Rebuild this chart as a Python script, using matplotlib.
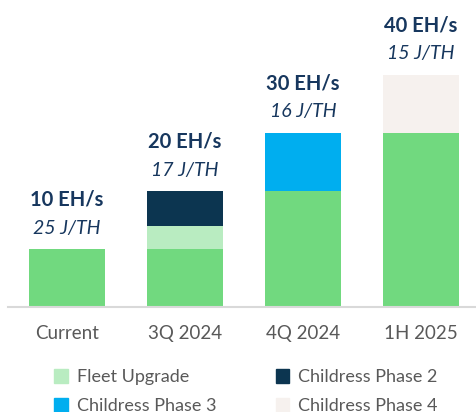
import numpy as np
import matplotlib
matplotlib.use("Agg")
import matplotlib.pyplot as plt
from matplotlib.patches import Patch

# data
categories = ['Current', '3Q 2024', '4Q 2024', '1H 2025']
base_fleet = [10, 10, 20, 30]
fleet_upgrade = [0, 3.9, 0, 0]
phase2 = [0, 6.1, 0, 0]
phase3 = [0, 0, 10, 0]
phase4 = [0, 0, 0, 10]
hashrate_labels = ['10 EH/s', '20 EH/s', '30 EH/s', '40 EH/s']
efficiency_labels = ['25 J/TH', '17 J/TH', '16 J/TH', '15 J/TH']

c_base = '#71d97f'
c_fleet = '#b9ecc1'
c_p2 = '#0c3550'
c_p3 = '#00aeef'
c_p4 = '#f6f1ee'
c_text = '#17375e'

fig = plt.figure(figsize=(4.77, 4.12), dpi=100)
ax = fig.add_axes([8 / 477, 1 - 307 / 412, 472 / 477, 234 / 412])

x = np.arange(len(categories))
w = 0.645
bottom = np.zeros(len(categories))
for vals, col in [(base_fleet, c_base), (fleet_upgrade, c_fleet), (phase2, c_p2),
                  (phase3, c_p3), (phase4, c_p4)]:
    ax.bar(x, vals, w, bottom=bottom, color=col, linewidth=0)
    bottom += np.array(vals)

ax.set_xlim(-0.5, 3.5)
ax.set_ylim(0, 40.3)

for i, tot in enumerate(bottom):
    ax.annotate(hashrate_labels[i], (x[i], tot), xytext=(0, 35.5), textcoords='offset points',
                ha='center', va='center', fontsize=14.5, fontweight='bold', color=c_text,
                family='Lato', annotation_clip=False)
    ax.annotate(efficiency_labels[i], (x[i], tot), xytext=(0, 15), textcoords='offset points',
                ha='center', va='center', fontsize=14, fontstyle='italic', color=c_text,
                family='Lato', annotation_clip=False)

for s in ['top', 'right', 'left']:
    ax.spines[s].set_visible(False)
ax.spines['bottom'].set_color('#d9d9d9')
ax.spines['bottom'].set_linewidth(1.5)
ax.set_yticks([])
ax.set_xticks(x)
ax.set_xticklabels(categories, fontsize=13.5, color='#595959', family='Lato')
ax.tick_params(axis='x', length=0, pad=13)

handles = [Patch(color=c_fleet, label='Fleet Upgrade'),
           Patch(color=c_p3, label='Childress Phase 3'),
           Patch(color=c_p2, label='Childress Phase 2'),
           Patch(color=c_p4, label='Childress Phase 4')]
fig.legend(handles=handles, ncol=2, loc='upper left', bbox_to_anchor=(38 / 477, 1 - 353 / 412),
           frameon=False, handlelength=0.75, handleheight=0.75, handletextpad=0.5,
           columnspacing=3.3, labelspacing=0.72,
           prop={'family': 'Lato', 'size': 13}, labelcolor='#595959')

fig.savefig('out.png', dpi=100)
